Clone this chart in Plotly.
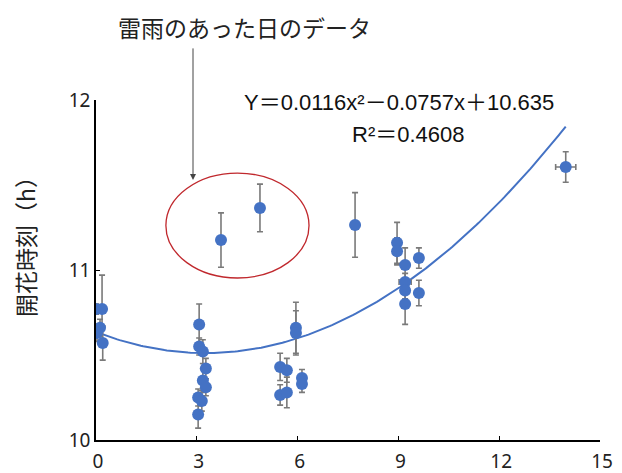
import numpy as np
import plotly.graph_objects as go

# ---- data ----
x_vals = [0.00, 0.18, 0.12, 0.03, 0.20,
          3.07, 3.07, 3.18, 3.27, 3.18, 3.27, 3.04, 3.15, 3.04,
          3.72, 4.88,
          5.95, 5.95, 5.48, 5.68, 5.48, 5.68, 6.13, 6.13,
          7.71,
          8.96, 8.96, 9.20, 9.61, 9.20, 9.20, 9.61, 9.20,
          13.98]
y_vals = [10.77, 10.77, 10.66, 10.63, 10.57,
          10.68, 10.55, 10.52, 10.42, 10.35, 10.31, 10.25, 10.23, 10.15,
          11.176, 11.365,
          10.66, 10.63, 10.43, 10.41, 10.265, 10.28, 10.365, 10.33,
          11.265,
          11.16, 11.11, 11.03, 11.07, 10.93, 10.88, 10.865, 10.80,
          11.606]
y_err = [0.03, 0.20, 0.05, 0.05, 0.10,
         0.12, 0.05, 0.07, 0.06, 0.07, 0.05, 0.05, 0.06, 0.08,
         0.16, 0.14,
         0.15, 0.13, 0.08, 0.07, 0.06, 0.09, 0.05, 0.05,
         0.19,
         0.12, 0.08, 0.10, 0.06, 0.05, 0.05, 0.075, 0.12,
         0.09]
x_err = [0, 0, 0, 0, 0,
         0, 0, 0, 0, 0, 0, 0, 0, 0,
         0, 0,
         0, 0, 0, 0, 0, 0, 0, 0,
         0,
         0, 0, 0, 0, 0.18, 0, 0, 0,
         0.30]

# trendline coefficients shown on the chart
coef_a, coef_b, coef_c = 0.0116, -0.0757, 10.635
x_ticks = [0, 3, 6, 9, 12, 15]
y_ticks = [10, 11, 12]

title_text = "雷雨のあった日のデータ"
eq_text = "Y＝0.0116x²－0.0757x＋10.635"
r2_text = "R²＝0.4608"
ytitle_text = "開花時刻（h）"

BLUE = "#4472C4"
CJK = "Noto Sans CJK JP"
EQF = "Liberation Sans, Noto Sans CJK JP"

# plot area in page pixels (page body adds an 8px offset)
PL, PR, PT, PB = 96, 600, 100, 440
PW, PH = PR - PL, PB - PT


def px_x(p):
    return (p - PL) / PW


def px_y(p):
    return 1 - (p - PT) / PH


fig = go.Figure()

xc = np.linspace(0, max(x_vals), 200)
yc = coef_a * xc ** 2 + coef_b * xc + coef_c
fig.add_trace(go.Scatter(x=xc, y=yc, mode="lines",
                         line=dict(color=BLUE, width=2), hoverinfo="skip"))

fig.add_trace(go.Scatter(
    x=x_vals, y=y_vals, mode="markers",
    marker=dict(color=BLUE, size=12),
    error_y=dict(type="data", array=y_err, color="#7a7a7a", thickness=1.6, width=3),
    error_x=dict(type="data", array=x_err, color="#7a7a7a", thickness=1.6, width=3),
))

# ellipse around thunderstorm-day data
fig.add_shape(type="circle", xref="x", yref="y",
              x0=2.08, x1=6.34, y0=10.953, y1=11.57,
              line=dict(color="#C0282D", width=1.3))

# arrow from the label to the ellipse
fig.add_annotation(x=2.887, y=11.53, xref="x", yref="y", text="",
                   showarrow=True, axref="pixel", ayref="pixel", ax=0, ay=-133,
                   arrowhead=2, arrowsize=1.2, arrowwidth=1, arrowcolor="#444444",
                   standoff=0)

fig.add_annotation(x=px_x(244), y=px_y(27), xref="paper", yref="paper",
                   text=title_text, showarrow=False,
                   font=dict(family=CJK, size=23, color="#222222"),
                   xanchor="center", yanchor="middle")

fig.add_annotation(x=px_x(399), y=px_y(103), xref="paper", yref="paper",
                   text=eq_text, showarrow=False,
                   font=dict(family=EQF, size=22, color="#111111"),
                   xanchor="center", yanchor="middle")
fig.add_annotation(x=px_x(408), y=px_y(135), xref="paper", yref="paper",
                   text=r2_text, showarrow=False,
                   font=dict(family=EQF, size=22, color="#111111"),
                   xanchor="center", yanchor="middle")

fig.add_annotation(x=px_x(25), y=px_y(241), xref="paper", yref="paper",
                   text=ytitle_text, showarrow=False, textangle=-90,
                   font=dict(family=CJK, size=23, color="#222222"),
                   xanchor="center", yanchor="middle")

OFF = 8
fig.update_layout(
    width=622, height=473,
    margin=dict(l=PL - OFF, r=622 - (PR - OFF), t=PT - OFF, b=473 - (PB - OFF),
                autoexpand=False),
    paper_bgcolor="white", plot_bgcolor="white",
    showlegend=False,
)
fig.update_xaxes(range=[0, 15], tickvals=x_ticks, showgrid=False, zeroline=False,
                 automargin=False, ticklabelstandoff=3, ticklabelshift=2,
                 showline=True, linecolor="black", linewidth=1.5,
                 ticks="inside", ticklen=4, tickcolor="black",
                 tickfont=dict(family="Noto Sans", size=19, color="#222222"))
fig.update_yaxes(range=[10, 12], tickvals=y_ticks, showgrid=False, zeroline=False,
                 automargin=False,
                 showline=True, linecolor="black", linewidth=1.5,
                 ticks="inside", ticklen=4, tickcolor="black",
                 tickfont=dict(family="Noto Sans", size=19, color="#222222"))

fig.write_html("out.html")
